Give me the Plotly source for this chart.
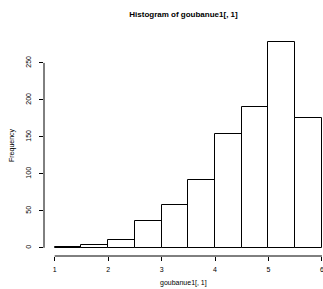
import plotly.graph_objects as go

bin_edges = [1.0, 1.5, 2.0, 2.5, 3.0, 3.5, 4.0, 4.5, 5.0, 5.5, 6.0]
counts = [1, 4, 10, 36, 58, 92, 154, 190, 278, 175]
x_ticks = [1, 2, 3, 4, 5, 6]
y_ticks = [0, 50, 100, 150, 200, 250]
title = "Histogram of goubanue1[, 1]"
x_label = "goubanue1[, 1]"
y_label = "Frequency"

W, H = 323, 289
ml, mr, mt, mb = 44, 0, 34, 33
plot_w = W - ml - mr
plot_h = H - mt - mb

lefts = bin_edges[:-1]
widths = [b - a for a, b in zip(bin_edges[:-1], bin_edges[1:])]

fig = go.Figure()
fig.add_trace(go.Bar(
    x=lefts, y=counts, width=widths, offset=0,
    marker=dict(color="white", line=dict(color="black", width=1)),
    hoverinfo="skip",
))

font = "Liberation Sans, Arial, Helvetica, sans-serif"

fig.update_layout(
    width=W, height=H,
    margin=dict(l=ml, r=mr, t=mt, b=mb, pad=0),
    paper_bgcolor="white", plot_bgcolor="white",
    showlegend=False, bargap=0,
    font=dict(family=font, size=7, color="black"),
    title=dict(text="<b>" + title + "</b>", x=(ml + plot_w / 2) / W, xanchor="center",
               y=1 - 14 / H, yanchor="middle", font=dict(size=8, family=font, color="black")),
    xaxis=dict(range=[0.8, 6.02], showgrid=False, zeroline=False, showline=False,
               tickmode="array", tickvals=x_ticks, ticktext=[str(v) for v in x_ticks],
               ticks="outside", ticklen=4, tickwidth=1, tickcolor="black",
               ticklabeloverflow="allow", ticklabelstandoff=3,
               tickfont=dict(size=7), fixedrange=True),
    yaxis=dict(range=[-11.1, 289.1], showgrid=False, zeroline=False, showline=False,
               tickmode="array", tickvals=y_ticks, ticktext=[str(v) for v in y_ticks],
               ticks="outside", ticklen=4, tickwidth=1, tickcolor="black",
               ticklabelstandoff=5,
               tickangle=-90, tickfont=dict(size=7), fixedrange=True),
)

# R-style axis lines spanning only the tick range
fig.add_shape(type="line", xref="x", yref="paper", x0=min(x_ticks), x1=max(x_ticks),
              y0=0, y1=0, line=dict(color="black", width=1))
fig.add_shape(type="line", xref="paper", yref="y", x0=0, x1=0,
              y0=min(y_ticks), y1=max(y_ticks), line=dict(color="black", width=1))

fig.add_annotation(text=x_label, xref="paper", yref="paper",
                   x=0.5, y=(H - mb - 283) / plot_h, xanchor="center", yanchor="middle",
                   showarrow=False, font=dict(size=7, family=font))
fig.add_annotation(text=y_label, xref="paper", yref="paper",
                   x=(12 - ml) / plot_w, y=0.5, xanchor="center", yanchor="middle",
                   textangle=-90, showarrow=False, font=dict(size=7, family=font))

fig.write_html(
    "out.html",
    config={"displayModeBar": False},
    post_script="document.body.style.margin='0';document.body.style.overflow='hidden';"
                "document.documentElement.style.overflow='hidden';",
)
